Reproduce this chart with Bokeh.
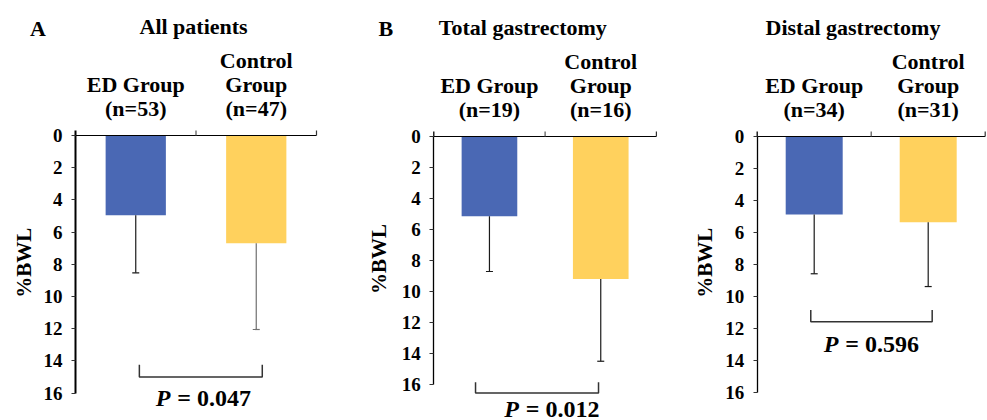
import math
from bokeh.plotting import figure
from bokeh.layouts import row
from bokeh.models import Range1d, FixedTicker, ColumnDataSource
from bokeh.embed import file_html
from bokeh.resources import INLINE
from bokeh.core.properties import value

# ---------------- data ----------------
panel_titles = ["All patients", "Total gastrectomy", "Distal gastrectomy"]
panel_letters = ["A", "B", ""]
group_labels = ["ED Group", "Control\nGroup"]
group_n = [[53, 47], [19, 16], [34, 31]]
mean_bwl = [[4.95, 6.70], [5.14, 9.20], [4.88, 5.36]]
sd_bwl = [[3.58, 5.35], [3.57, 5.30], [3.71, 4.03]]
p_values = ["0.047", "0.012", "0.596"]
y_ticks = [0, 2, 4, 6, 8, 10, 12, 14, 16]

# ---------------- styles / layout ----------------
FONT = "Liberation Serif"
bar_colors = ["#4A68B4", "#FFD15D"]
err_colors = [["#1a1a1a", "#707070"], ["#1a1a1a", "#1a1a1a"], ["#1a1a1a", "#1a1a1a"]]
H = 420
panels = [
    dict(width=367, axis_px=75.0, y0=135, ppu_y=16.1, ppu_x=120.5, title_x=0.98,
         p_x=1.06, p_y=16.3, br=(0.53, 1.55, 14.24, 15.0), letter_dx=-37.5,
         label_dx=-51.5, axis_w=2),
    dict(width=325, axis_px=66.3, y0=136, ppu_y=15.5, ppu_x=111.3, title_x=0.8,
         p_x=1.06, p_y=17.55, br=(0.375, 1.48, 15.85, 16.55), letter_dx=-48,
         label_dx=-55, axis_w=1.3),
    dict(width=295, axis_px=64.7, y0=136, ppu_y=15.98, ppu_x=114.0, title_x=0.84,
         p_x=1.0, p_y=13.0, br=(0.47, 1.535, 10.85, 11.6), letter_dx=-40,
         label_dx=-52, axis_w=1.3),
]

figs = []
for i, cfg in enumerate(panels):
    x_start = -cfg["axis_px"] / cfg["ppu_x"]
    x_end = (cfg["width"] - cfg["axis_px"]) / cfg["ppu_x"]
    y_bottom = (H - cfg["y0"]) / cfg["ppu_y"]
    y_top = -cfg["y0"] / cfg["ppu_y"]
    p = figure(width=cfg["width"], height=H, output_backend="svg",
               toolbar_location=None, x_axis_location=None,
               x_range=Range1d(x_start, x_end), y_range=Range1d(y_bottom, y_top),
               min_border_left=0, min_border_right=0,
               min_border_top=0, min_border_bottom=0,
               background_fill_color="white", border_fill_color="white")
    p.outline_line_color = None
    p.xgrid.visible = False
    p.ygrid.visible = False

    ax = p.yaxis[0]
    ax.fixed_location = 0
    ax.ticker = FixedTicker(ticks=y_ticks)
    ax.bounds = (0, 16)
    ax.axis_line_width = cfg["axis_w"]
    ax.axis_line_color = "black"
    ax.major_tick_out = 4
    ax.major_tick_in = 0
    ax.minor_tick_out = 0
    ax.minor_tick_in = 0
    ax.major_tick_line_color = "#333333"
    ax.major_label_standoff = 9
    ax.major_label_text_font = FONT
    ax.major_label_text_font_style = "bold"
    ax.major_label_text_font_size = "19px"
    ax.major_label_text_color = "black"

    xs = [0.5, 1.5]
    means = mean_bwl[i]
    ends = [m + s for m, s in zip(means, sd_bwl[i])]

    # bars
    p.vbar(x=xs, top=means, bottom=0, width=0.5, fill_color=bar_colors,
           line_color=None)
    # error bars
    p.segment(x0=xs, y0=means, x1=xs, y1=ends, line_color=err_colors[i],
              line_width=1.2)
    p.scatter(x=xs, y=ends, marker="dash", size=7, line_color=err_colors[i],
              line_width=1.2)

    # top category line with ticks
    tick_h = 5 / cfg["ppu_y"]
    p.segment(x0=0, y0=0, x1=2, y1=0, line_color="black", line_width=1)
    p.segment(x0=[1, 2], y0=[0, 0], x1=[1, 2], y1=[-tick_h, -tick_h],
              line_color=["#555555", "#333333"], line_width=1.2)
    p.segment(x0=0, y0=0, x1=0, y1=-tick_h, line_color="black",
              line_width=cfg["axis_w"])

    # category labels
    tx, ty, tt, toff = [], [], [], []
    for g, (lab, n) in enumerate(zip(group_labels, group_n[i])):
        lines = lab.split("\n") + [f"(n={n})"]
        for k, line in enumerate(reversed(lines)):
            tx.append(xs[g]); ty.append(0); tt.append(line)
            toff.append(-(27 + 24 * k))
    src = ColumnDataSource(dict(x=tx, y=ty, text=tt, yoff=toff))
    p.text(x="x", y="y", text="text", y_offset="yoff", source=src,
           text_font=value(FONT), text_font_style="bold",
           text_font_size="22px", text_align="center",
           text_baseline="middle", text_color="black")

    # panel title
    p.text(x=[cfg["title_x"]], y=[0], text=[panel_titles[i]], y_offset=-109,
           text_font=value(FONT), text_font_style="bold",
           text_font_size="22px", text_align="center",
           text_baseline="middle", text_color="black")

    # significance bracket
    bx0, bx1, btop, bbot = cfg["br"]
    p.line(x=[bx0, bx0, bx1, bx1], y=[btop, bbot, bbot, btop],
           line_color="#333333", line_width=1.5)

    # P value
    p.text(x=[cfg["p_x"]], y=[cfg["p_y"]], text=["P"], x_offset=-47.5,
           text_font=value(FONT), text_font_style="bold italic",
           text_font_size="24px", text_align="left",
           text_baseline="middle", text_color="black")
    p.text(x=[cfg["p_x"]], y=[cfg["p_y"]], text=["= " + p_values[i]],
           x_offset=-26, text_font=value(FONT), text_font_style="bold",
           text_font_size="24px", text_align="left",
           text_baseline="middle", text_color="black")

    # y-axis label
    p.text(x=[cfg["label_dx"] / cfg["ppu_x"]], y=[7.9], text=["%BWL"],
           angle=math.pi / 2, text_font=value(FONT), text_font_style="bold",
           text_font_size="21px", text_align="center",
           text_baseline="middle", text_color="black")
    # panel letter
    if panel_letters[i]:
        p.text(x=[cfg["letter_dx"] / cfg["ppu_x"]],
               y=[(27.5 - cfg["y0"]) / cfg["ppu_y"]],
               text=[panel_letters[i]], text_font=value(FONT),
               text_font_style="bold", text_font_size="22px",
               text_align="center", text_baseline="middle",
               text_color="black")
    figs.append(p)

layout = row(*figs)
open("out.html", "w").write(file_html(layout, INLINE))
